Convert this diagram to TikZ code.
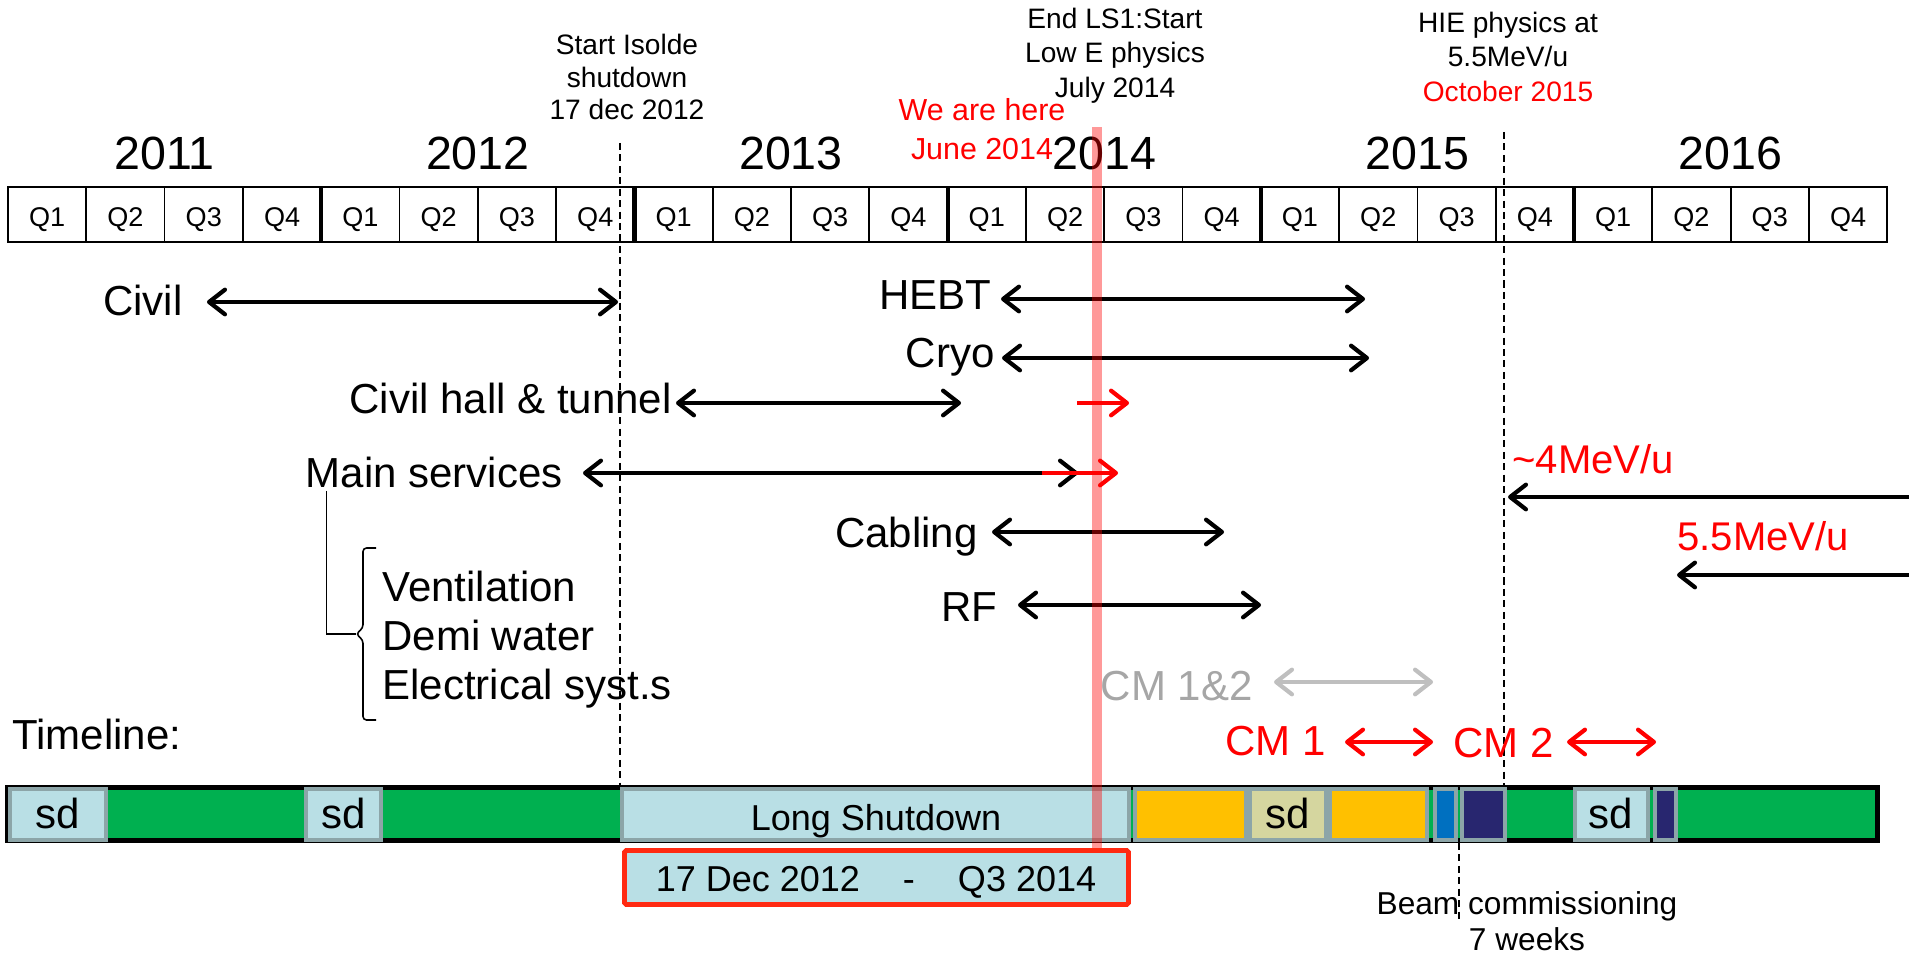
\documentclass[tikz,border=0pt]{standalone}
\usepackage{fontspec}
\setmainfont{Liberation Sans}
\usepackage{xcolor}
\usepackage{tikz}
\usetikzlibrary{arrows.meta}

\definecolor{barGreen}{HTML}{00B050}
\definecolor{sdBlue}{HTML}{B9DFE5}
\definecolor{segLine}{HTML}{8CA5A8}
\definecolor{runOrange}{HTML}{FFC000}
\definecolor{sdKhaki}{HTML}{D5D69F}
\definecolor{commBlue}{HTML}{0070C0}
\definecolor{commNavy}{HTML}{28266F}
\definecolor{cmGray}{HTML}{A6A6A6}
\definecolor{cmArrow}{HTML}{BFBFBF}
\definecolor{dateRed}{HTML}{FF2A12}

\begin{document}
\begin{tikzpicture}[x=0.2mm, y=-0.2mm,
        >={Straight Barb[length=9pt,width=14pt,round]},
        lbl/.style={font=\fontsize{23.9}{28}\selectfont, inner sep=0pt},
        hdr/.style={font=\fontsize{16}{19.5}\selectfont, inner sep=0pt, align=center, anchor=north},
        yr/.style={font=\fontsize{26.5}{30}\selectfont, anchor=base},
        qlbl/.style={font=\fontsize{15.4}{18}\selectfont, anchor=base},
        bartxt/.style={font=\fontsize{20.5}{24}\selectfont, anchor=base, inner sep=0pt},
        plan/.style={<->, line width=2.4pt},
        late/.style={->, line width=2.4pt, red},
        cutline/.style={line width=0.9pt, dash pattern=on 4pt off 2.5pt},
        seg/.style={draw=segLine, line width=2.2pt}]

        \useasboundingbox (0,0) rectangle (1909,954);

        % Milestones on top
        \node[hdr, font=\fontsize{16}{18.5}\selectfont] (isolde) at (627,34) {Start Isolde\\shutdown\\17 dec 2012};
        \node[hdr] (ls1) at (1115,8) {End LS1:Start\\Low E physics\\July 2014};
        \node[hdr] (hie) at (1508,12) {HIE physics at\\5.5MeV/u\\\textcolor{red}{October 2015}};
        \node[hdr, red, font=\fontsize{17.3}{22}\selectfont] (here) at (982,98) {We are here\\June 2014};

        % Years and quarters
        \foreach \yy [count=\k from 0] in {2011,...,2016}
            \node[yr] (y\yy) at ({8+(4*\k+2)*78.3},170) {\yy};
        \draw[line width=1.3pt] (8,187) rectangle (1887,242);
        \foreach \i in {1,...,23} {
            \pgfmathsetmacro\lw{mod(\i,4)==0 ? 2.4 : 1}
            \draw[line width=\lw pt] ({8+\i*78.3},187) -- ({8+\i*78.3},242);
        }
        \foreach \i in {0,...,23} {
            \pgfmathtruncatemacro\q{mod(\i,4)+1}
            \node[qlbl] (q\i) at ({8+(\i+0.5)*78.3},227) {Q\q};
        }

        % Dashed milestone lines
        \coordinate (isoTop) at (620,143);
        \coordinate (isoBot) at (620,810);
        \coordinate (hieTop) at (1504,132);
        \coordinate (hieBot) at (1504,795);
        \draw[cutline] (isoTop) -- (isoBot);
        \draw[cutline] (hieTop) -- (hieBot);

        % Work packages
        \node[lbl, anchor=base east] (civil) at (183,315) {Civil};
        \draw[plan] (207,302) coordinate (civilA) -- (618,302) coordinate (civilB);

        \node[lbl, anchor=base east] (hebt) at (992,310) {HEBT};
        \draw[plan] (1001,299) coordinate (hebtA) -- (1365,299) coordinate (hebtB);

        \node[lbl, anchor=base east] (cryo) at (995,367) {Cryo};
        \draw[plan] (1002,358) coordinate (cryoA) -- (1369,358) coordinate (cryoB);

        \node[lbl, anchor=base east] (hall) at (672,413) {Civil hall \& tunnel};
        \draw[plan] (676,403) coordinate (hallA) -- (961,403) coordinate (hallB);
        \draw[late] (1077,403) coordinate (hallC) -- (1129,403) coordinate (hallD);

        \node[lbl, anchor=base east] (ms) at (563,487) {Main services};
        \draw[plan] (583,473) coordinate (msA) -- (1078,473) coordinate (msB);
        \draw[late] (1042,473) coordinate (msC) -- (1118,473) coordinate (msD);

        \node[lbl, anchor=base east] (cabling) at (978,547) {Cabling};
        \draw[plan] (992,532) coordinate (cabA) -- (1224,532) coordinate (cabB);

        \node[lbl, anchor=base east] (rf) at (998,621) {RF};
        \draw[plan] (1018,605) coordinate (rfA) -- (1261,605) coordinate (rfB);

        % Main services breakdown
        \node[lbl, anchor=north west, align=left, font=\fontsize{23.9}{27.9}\selectfont] (svc) at (382,571)
            {Ventilation\\Demi water\\Electrical syst.s};
        \coordinate (bktip) at (356,634);
        \draw[line width=0.9pt, rounded corners=2pt] (376,548) -- (363,548) -- (363,628)
            -- (bktip) -- (363,640) -- (363,720) -- (376,720);
        \draw[line width=0.9pt] ([xshift=4.2mm,yshift=-0.6mm]ms.south west) |- (bktip);

        % Cryo modules
        \node[lbl, anchor=base east, cmGray] (cm12) at (1253,700) {CM 1\&2};
        \draw[plan, cmArrow] (1274,682) coordinate (cmA) -- (1433,682) coordinate (cmB);
        \node[lbl, anchor=base east, red] (cm1) at (1326,755) {CM 1};
        \draw[plan, red] (1345,742) coordinate (cmoneA) -- (1433,742) coordinate (cmoneB);
        \node[lbl, anchor=base east, red] (cm2) at (1554,757) {CM 2};
        \draw[plan, red] (1567,742) coordinate (cmtwoA) -- (1656,742) coordinate (cmtwoB);

        % Beam energies
        \node[lbl, anchor=base west, red, font=\fontsize{22.8}{26}\selectfont] (e4) at (1512,473) {\textasciitilde 4MeV/u};
        \draw[->, line width=2.4pt] (1909,497) coordinate (efourA) -- (1508,497) coordinate (efourB);
        \node[lbl, anchor=base west, red, font=\fontsize{22.8}{26}\selectfont] (e55) at (1677,550) {5.5MeV/u};
        \draw[->, line width=2.4pt] (1909,575) coordinate (efiveA) -- (1677,575) coordinate (efiveB);

        % Timeline bar
        \node[lbl, anchor=base west] (tl) at (12,749) {Timeline:};
        \draw[line width=2.8pt, fill=barGreen] (7.5,787.5) rectangle (1877.5,840.5);
        \draw[seg, fill=sdBlue] (10,789) rectangle (106,840);
        \node[bartxt, font=\fontsize{23.9}{28}\selectfont] (sd1) at (58,828) {sd};
        \draw[seg, fill=sdBlue] (306,789) rectangle (381,840);
        \node[bartxt, font=\fontsize{23.9}{28}\selectfont] (sd2) at (344,828) {sd};
        \draw[seg, fill=sdBlue] (622,789) rectangle (1129,840);
        \node[bartxt] (ls) at (876,830) {Long Shutdown};
        \draw[seg, fill=runOrange] (1135,789) rectangle (1246,840);
        \draw[seg, fill=sdKhaki] (1250,789) rectangle (1326,840);
        \node[bartxt, font=\fontsize{23.9}{28}\selectfont] (sd3) at (1288,828) {sd};
        \draw[seg, fill=runOrange] (1330,789) rectangle (1427,840);
        \draw[seg, fill=commBlue] (1435,789) rectangle (1456,840);
        \draw[seg, fill=commNavy] (1462,789) rectangle (1505,840);
        \draw[seg, fill=sdBlue] (1575,789) rectangle (1648,840);
        \node[bartxt, font=\fontsize{23.9}{28}\selectfont] (sd4) at (1611,828) {sd};
        \draw[seg, fill=commNavy] (1655,789) rectangle (1676,840);

        % Long shutdown dates
        \draw[draw=dateRed, fill=sdBlue, line width=2.8pt, rounded corners=1pt] (624.5,850.5) rectangle (1128.5,904.5);
        \node[bartxt] (dates) at (876,891) {17 Dec 2012\hspace{8.6mm}-\hspace{8.6mm}Q3 2014};

        % Beam commissioning
        \coordinate (bcTop) at (1459,843);
        \coordinate (bcBot) at (1459,922);
        \draw[cutline] (bcTop) -- (bcBot);
        \node[hdr, font=\fontsize{18}{20.5}\selectfont] (bc) at (1527,891) {Beam commissioning\\7 weeks};

        % Today
        \fill[red, opacity=0.4] (1092,127) rectangle (1102,848);
\end{tikzpicture}
\end{document}
